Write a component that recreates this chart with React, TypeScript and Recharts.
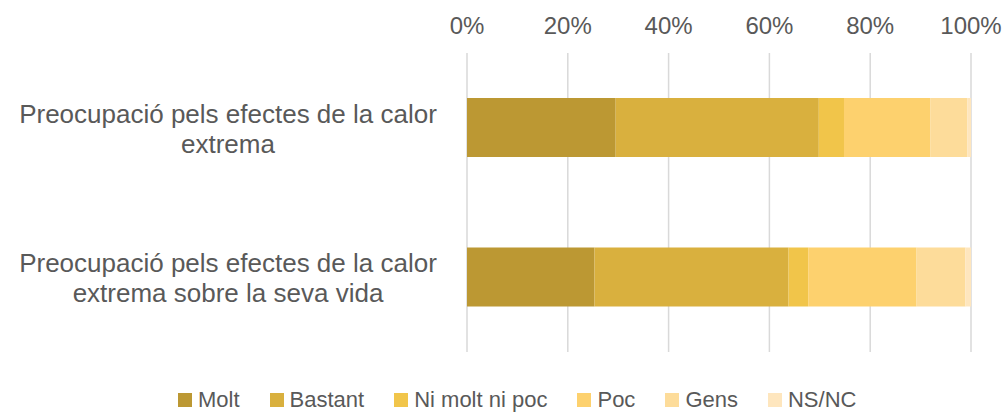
import React from "react";
import {
  BarChart,
  Bar,
  XAxis,
  YAxis,
  CartesianGrid,
  Legend,
} from "recharts";

// categories (line break marks where the label wraps)
const categories = [
  "Preocupació pels efectes de la calor\nextrema",
  "Preocupació pels efectes de la calor\nextrema sobre la seva vida",
];

const seriesNames = ["Molt", "Bastant", "Ni molt ni poc", "Poc", "Gens", "NS/NC"];
const seriesColors = ["#BC9833", "#D9B03E", "#F1C54A", "#FDD16E", "#FDDC9A", "#FEE6BE"];

// percentage per category, one array per series
const molt = [29.5, 25.3];
const bastant = [40.3, 38.5];
const niMoltNiPoc = [5.0, 3.9];
const poc = [17.1, 21.5];
const gens = [7.4, 9.7];
const nsnc = [0.7, 1.1];

const xTicks = [0, 0.2, 0.4, 0.6, 0.8, 1];

const seriesValues = [molt, bastant, niMoltNiPoc, poc, gens, nsnc];

const data = categories.map((name, i) => {
  const row: Record<string, string | number> = { name };
  seriesNames.forEach((s, j) => {
    row[s] = seriesValues[j][i];
  });
  return row;
});

const textColor = "#595959";

const CategoryTick = (props: any) => {
  const { y, payload } = props;
  const lines = String(payload.value).split("\n");
  return (
    <text
      x={228}
      y={y}
      textAnchor="middle"
      fill={textColor}
      fontSize={26}
      fontFamily="'Liberation Sans', Arial, sans-serif"
    >
      {lines.map((line, i) => (
        <tspan key={i} x={228} y={y - 5 + i * 30}>
          {line}
        </tspan>
      ))}
    </text>
  );
};

const renderLegend = (props: any) => {
  // keep the series order instead of the alphabetical one
  const payload = [...(props.payload || [])].sort(
    (a: any, b: any) => seriesNames.indexOf(a.value) - seriesNames.indexOf(b.value)
  );
  return (
    <ul
      style={{
        display: "flex",
        margin: 0,
        padding: 0,
        paddingLeft: 178,
        paddingTop: 36,
        listStyle: "none",
        gap: 30,
        fontFamily: "'Liberation Sans', Arial, sans-serif",
        fontSize: 22,
        lineHeight: "24px",
        color: textColor,
      }}
    >
      {payload.map((entry: any) => (
        <li key={entry.value} style={{ display: "flex", alignItems: "center" }}>
          <span
            style={{
              display: "inline-block",
              width: 14,
              height: 14,
              background: entry.color,
              marginRight: 6,
            }}
          />
          <span>{entry.value}</span>
        </li>
      ))}
    </ul>
  );
};

const App = () => {
  return (
    <div style={{ position: "absolute", left: 0, top: 0 }}>
      <BarChart
        width={1004}
        height={413}
        data={data}
        layout="vertical"
        stackOffset="expand"
        margin={{ top: 0, right: 33, bottom: 0, left: 0 }}
      >
        <CartesianGrid horizontal={false} stroke="#d9d9d9" strokeWidth={1.5} />
        <XAxis
          type="number"
          orientation="top"
          domain={[0, 1]}
          ticks={xTicks}
          tickFormatter={(v: number) => `${Math.round(v * 100)}%`}
          axisLine={false}
          tickLine={false}
          tickSize={0}
          tickMargin={19}
          height={53}
          tick={{
            fill: textColor,
            fontSize: 24,
            fontFamily: "'Liberation Sans', Arial, sans-serif",
          }}
        />
        <YAxis
          type="category"
          dataKey="name"
          width={467}
          axisLine={false}
          tickLine={false}
          tick={<CategoryTick />}
        />
        <Legend
          verticalAlign="bottom"
          height={61}
          content={renderLegend}
          wrapperStyle={{ left: 0, width: 1004 }}
        />
        {seriesNames.map((s, i) => (
          <Bar
            key={s}
            dataKey={s}
            stackId="a"
            fill={seriesColors[i]}
            barSize={59}
            isAnimationActive={false}
          />
        ))}
      </BarChart>
    </div>
  );
};

export default App;
